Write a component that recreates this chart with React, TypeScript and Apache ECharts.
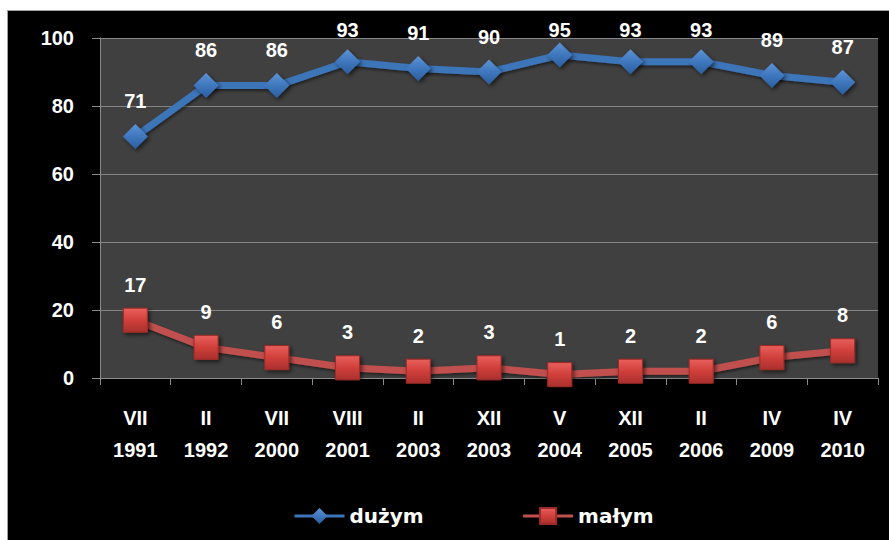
import React, { useEffect, useRef } from "react";
import * as echarts from "echarts";

const months = ["VII", "II", "VII", "VIII", "II", "XII", "V", "XII", "II", "IV", "IV"];
const years = ["1991", "1992", "2000", "2001", "2003", "2003", "2004", "2005", "2006", "2009", "2010"];
const duzym = [71, 86, 86, 93, 91, 90, 95, 93, 93, 89, 87];
const malym = [17, 9, 6, 3, 2, 3, 1, 2, 2, 6, 8];
const yTicks = { min: 0, max: 100, interval: 20 };

const categories = months.map((m, i) => m + "\n" + years[i]);

const numFont = "'Liberation Sans', Arial, sans-serif";

export default function App() {
  const ref = useRef<HTMLDivElement>(null);
  useEffect(() => {
    if (!ref.current) return;
    const chart = echarts.init(ref.current, undefined, { renderer: "svg" });
    const clampLabel = (params: any) => {
      const r = params.labelRect;
      if (r && r.y < 9) return { dy: 9 - r.y };
      return {};
    };
    const labelCommon = {
      show: true,
      position: "top" as const,
      distance: 13,
      color: "#ffffff",
      fontSize: 20,
      fontWeight: "bold" as const,
      fontFamily: numFont,
    };
    chart.setOption({
      animation: false,
      backgroundColor: "#000000",
      grid: {
        left: 92,
        top: 27,
        right: 11,
        bottom: 162,
        show: true,
        backgroundColor: "#404040",
        borderWidth: 0,
      },
      xAxis: {
        type: "category",
        data: categories,
        boundaryGap: true,
        axisLine: { show: true, lineStyle: { color: "#8a8a8a", width: 1 } },
        axisTick: { show: true, length: 7, lineStyle: { color: "#8a8a8a" } },
        axisLabel: {
          interval: 0,
          color: "#ffffff",
          fontSize: 20,
          fontWeight: "bold",
          fontFamily: numFont,
          lineHeight: 32,
          margin: 24,
          align: "center",
        },
        splitLine: { show: false },
      },
      yAxis: {
        type: "value",
        min: yTicks.min,
        max: yTicks.max,
        interval: yTicks.interval,
        axisLine: { show: true, lineStyle: { color: "#8a8a8a", width: 1 } },
        axisTick: { show: true, length: 8, lineStyle: { color: "#8a8a8a" } },
        axisLabel: {
          color: "#ffffff",
          fontSize: 20,
          fontWeight: "bold",
          fontFamily: numFont,
          margin: 26,
        },
        splitLine: { show: true, lineStyle: { color: "#858585", width: 1 } },
      },
      legend: {
        left: 280,
        top: 490,
        itemWidth: 50,
        itemHeight: 20,
        itemGap: 98,
        textStyle: {
          color: "#ffffff",
          fontSize: 20,
          fontWeight: "bold",
          fontFamily: "'DejaVu Sans', sans-serif",
        },
        lineStyle: { width: 3 },
        data: ["dużym", "małym"],
      },
      series: [
        {
          name: "dużym",
          type: "line",
          data: duzym,
          symbol: "diamond",
          symbolSize: 25,
          lineStyle: {
            color: "#3d74b9",
            width: 7,
            shadowColor: "rgba(0,0,0,0.5)",
            shadowBlur: 3,
            shadowOffsetX: 1,
            shadowOffsetY: 2,
          },
          itemStyle: {
            color: {
              type: "linear",
              x: 0,
              y: 0,
              x2: 0,
              y2: 1,
              colorStops: [
                { offset: 0, color: "#5d93d6" },
                { offset: 0.5, color: "#3f77bd" },
                { offset: 1, color: "#2b5e9e" },
              ],
            },
            shadowColor: "rgba(0,0,0,0.6)",
            shadowBlur: 4,
            shadowOffsetX: 2,
            shadowOffsetY: 2,
          },
          label: labelCommon,
          labelLayout: clampLabel,
        },
        {
          name: "małym",
          type: "line",
          data: malym,
          symbol: "rect",
          symbolSize: 24,
          lineStyle: {
            color: "#c0504d",
            width: 7,
            shadowColor: "rgba(0,0,0,0.5)",
            shadowBlur: 3,
            shadowOffsetX: 1,
            shadowOffsetY: 2,
          },
          itemStyle: {
            color: {
              type: "linear",
              x: 0,
              y: 0,
              x2: 0,
              y2: 1,
              colorStops: [
                { offset: 0, color: "#e8605c" },
                { offset: 0.5, color: "#d13f3b" },
                { offset: 1, color: "#a9302d" },
              ],
            },
            borderColor: "#9e2b28",
            borderWidth: 1,
            shadowColor: "rgba(0,0,0,0.6)",
            shadowBlur: 4,
            shadowOffsetX: 2,
            shadowOffsetY: 2,
          },
          label: labelCommon,
          labelLayout: clampLabel,
        },
      ],
    });
    return () => chart.dispose();
  }, []);

  return (
    <div
      style={{
        position: "absolute",
        left: 0,
        top: 0,
        width: 889,
        height: 540,
        background: "#ffffff",
        overflow: "hidden",
      }}
    >
      <div
        style={{
          position: "absolute",
          left: 7,
          top: 10,
          width: 882,
          height: 530,
          background: "#000000",
          borderTop: "1px solid #a0a0a0",
          borderLeft: "1px solid #a0a0a0",
          boxSizing: "border-box",
        }}
      >
        <div ref={ref} style={{ width: 881, height: 529 }} />
      </div>
    </div>
  );
}
